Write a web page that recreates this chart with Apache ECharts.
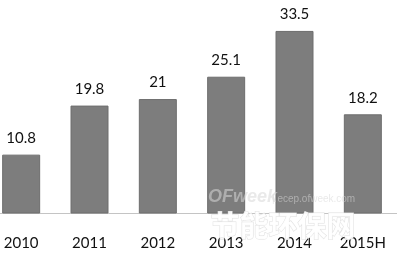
<!DOCTYPE html>
<html><head><meta charset="utf-8">
<script src="https://cdn.jsdelivr.net/npm/echarts@6/dist/echarts.min.js"></script>
<style>html,body{margin:0;padding:0;background:#fff}#c{width:397px;height:257px}</style>
</head><body><div id="c"></div>
<script>
const categories = ['2010','2011','2012','2013','2014','2015H'];
const values = [10.8, 19.8, 21, 25.1, 33.5, 18.2];
const chart = echarts.init(document.getElementById('c'), null, {renderer:'canvas'});
chart.setOption({
  animation:false,
  grid:{left:-13, right:0, top:17.3, bottom:43.5, outerBoundsMode:'none', containLabel:false},
  xAxis:{type:'category', data:categories,
    axisLine:{lineStyle:{color:'#c4c4c4', width:1}},
    axisTick:{show:false},
    axisLabel:{color:'#111', fontSize:15, fontFamily:'Lato', margin:22}},
  yAxis:{type:'value', min:0, max:36, show:false, splitLine:{show:false}},
  series:[{type:'bar', data:values, barWidth:38,
    itemStyle:{color:'#7d7d7d', borderColor:'#6e6e6e', borderWidth:1},
    label:{show:true, position:'top', distance:9, color:'#111', fontSize:15, fontFamily:'Lato'}}],
  graphic:[
    {type:'text', z:100, left:208, top:188, style:{text:'OFweek', font:'italic bold 18px "Liberation Sans"', fill:'rgba(215,215,215,0.55)'}},
    {type:'text', z:100, left:272, top:194, style:{text:'| ecep.ofweek.com', font:'10px "Liberation Sans"', fill:'rgba(215,215,215,0.55)'}},
    {type:'text', z:100, left:210, top:211, style:{text:'节能环保网', font:'bold 29px "Noto Sans CJK SC"', fill:'rgba(255,255,255,0.92)', stroke:'rgba(220,220,220,0.9)', lineWidth:1}}
  ]
});
</script></body></html>
